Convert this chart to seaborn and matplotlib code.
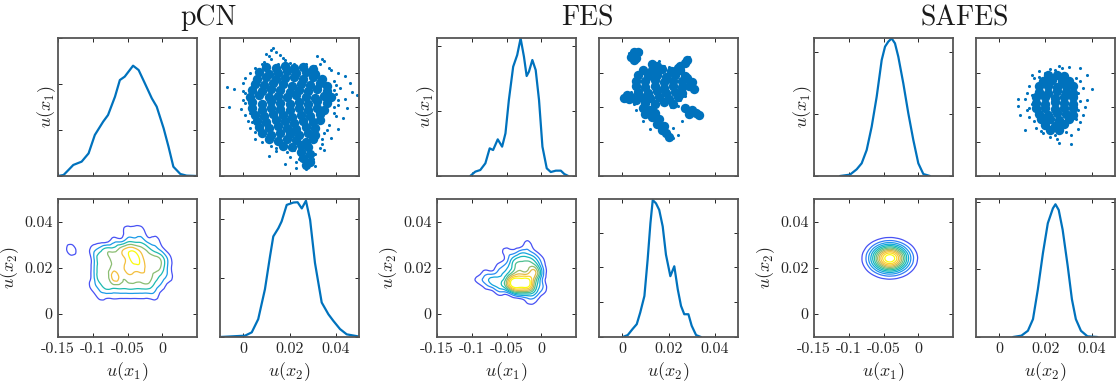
import numpy as np
import matplotlib
matplotlib.use('Agg')
import matplotlib.pyplot as plt
from matplotlib.colors import LinearSegmentedColormap
from matplotlib.tri import Triangulation, UniformTriRefiner
import seaborn as sns

methods = ['pCN', 'FES', 'SAFES']

# marginal densities
pcn_u1 = [-0.150, -0.142, -0.135, -0.128, -0.116, -0.106, -0.097, -0.085, -0.078, -0.068, -0.061, -0.054,
          -0.042, -0.034, -0.025, -0.015, -0.008, 0.002, 0.009, 0.016, 0.026, 0.035, 0.050]
pcn_f1 = [0.0, 0.11, 0.65, 1.20, 1.56, 2.46, 4.46, 5.91, 6.63, 8.62, 10.43, 10.80,
          11.99, 11.52, 10.07, 8.44, 7.54, 5.18, 3.19, 1.01, 0.22, 0.04, 0.0]
pcn_u2 = [-0.0100, 0.0008, 0.0037, 0.0065, 0.0094, 0.0116, 0.0130, 0.0152, 0.0166, 0.0188, 0.0217,
          0.0235, 0.0253, 0.0271, 0.0289, 0.0310, 0.0339, 0.0368, 0.0389, 0.0418, 0.0447, 0.0497]
pcn_f2 = [0.0, 0.45, 1.57, 6.06, 16.2, 27.4, 34.1, 36.9, 39.2, 44.8, 45.6,
          45.7, 43.6, 46.2, 39.7, 25.1, 11.7, 7.7, 5.5, 2.7, 0.9, 0.2]

fes_u1 = [-0.1022, -0.0949, -0.0877, -0.0804, -0.0742, -0.0693, -0.0626, -0.0563, -0.0515, -0.0466, -0.0404,
          -0.0346, -0.0297, -0.0249, -0.0210, -0.0177, -0.0128, -0.0080, -0.0032, 0.0017, 0.0079, 0.0137,
          0.0210, 0.0282, 0.0331, 0.0389]
fes_f1 = [0.0, 0.67, 0.92, 1.95, 4.25, 3.99, 5.63, 4.51, 6.55, 11.67, 16.79,
          18.59, 21.15, 18.33, 15.36, 16.03, 17.82, 16.28, 11.67, 4.51, 1.18, 0.61,
          0.82, 0.82, 0.31, 0.0]
fes_u2 = [0.0002, 0.0024, 0.0045, 0.0063, 0.0078, 0.0096, 0.0110, 0.0122, 0.0132, 0.0146, 0.0160,
          0.0175, 0.0189, 0.0208, 0.0225, 0.0240, 0.0254, 0.0268, 0.0286, 0.0300, 0.0319, 0.0340]
fes_f2 = [0.0, 1.1, 4.6, 7.4, 14.1, 23.6, 44.6, 65.5, 78.8, 76.9, 73.1,
          63.6, 47.4, 35.0, 40.7, 27.4, 17.9, 13.1, 13.1, 6.5, 1.1, 0.0]

safes_u1 = [-0.1126, -0.0982, -0.0886, -0.0814, -0.0742, -0.0670, -0.0598, -0.0526, -0.0478, -0.0431,
            -0.0383, -0.0335, -0.0287, -0.0215, -0.0143, -0.0071, 0.0001, 0.0073, 0.0169]
safes_f1 = [0.0, 0.22, 1.08, 2.05, 4.20, 7.97, 12.82, 18.74, 20.90, 21.71,
            22.24, 21.44, 19.28, 14.97, 10.13, 5.82, 2.05, 0.32, 0.0]
safes_u2 = [0.0060, 0.0096, 0.0124, 0.0146, 0.0167, 0.0189, 0.0210, 0.0232, 0.0243, 0.0257, 0.0274,
            0.0296, 0.0314, 0.0331, 0.0353, 0.0381, 0.0424]
safes_f2 = [0.0, 1.0, 4.6, 13.2, 35.2, 62.1, 84.1, 95.1, 98.1, 93.9, 79.3,
            52.3, 27.9, 13.2, 4.6, 0.5, 0.0]

# samples (u(x2), u(x1)) in units of 1e-3, dense core and scattered outliers
pcn_core = [(10, 8), (14, 6), (18, 9), (22, 7), (26, 8), (30, 5),
            (7, 1), (11, -2), (15, 0), (19, 2), (23, -1), (27, 1), (31, -2),
            (6, -9), (10, -7), (14, -10), (18, -8), (22, -6), (26, -9), (30, -7), (34, -10),
            (5, -16), (9, -18), (13, -15), (17, -17), (21, -19), (25, -16), (29, -18), (33, -15), (36, -19),
            (4, -25), (8, -27), (12, -24), (16, -26), (20, -28), (24, -25), (28, -27), (32, -24), (36, -27),
            (3, -35), (7, -33), (11, -36), (15, -34), (19, -36), (23, -33), (27, -35), (31, -37), (35, -34), (38, -36),
            (4, -43), (8, -45), (12, -42), (16, -44), (20, -46), (24, -43), (28, -45), (32, -42), (36, -44),
            (4, -52), (8, -54), (12, -51), (16, -53), (20, -55), (24, -52), (28, -54), (32, -51), (35, -54),
            (5, -61), (9, -63), (13, -60), (17, -62), (21, -64), (25, -61), (29, -63), (33, -60),
            (6, -70), (10, -72), (14, -69), (18, -71), (22, -73), (26, -70), (30, -72), (33, -69),
            (7, -79), (11, -81), (15, -78), (19, -80), (23, -82), (27, -79), (31, -81),
            (8, -88), (12, -90), (16, -87), (20, -89), (24, -91), (28, -88), (31, -90),
            (11, -97), (15, -99), (19, -96), (23, -98), (27, -100), (30, -97),
            (17, -106), (21, -108), (25, -105), (28, -108),
            (25, -115), (29, -118), (26, -124), (29, -129), (27, -134)]
pcn_sparse = [(12, 32), (14, 30), (10, 27), (16, 25), (12, 20), (18, 18), (9, 15), (20, 14), (15, 13), (13, 35),
              (11, 24), (17, 21), (8, 12), (22, 12), (5, 6), (3, 0), (1, -8), (0, -15),
              (32, 24), (34, 20), (35, 16), (33, 12), (37, 7), (31, 10), (27, 12),
              (38, 4), (41, 0), (44, -5), (39, -12), (46, -15), (42, -22), (47, -28), (40, -31), (44, -38), (49, -33),
              (41, -47), (45, -52), (39, -58), (43, -66), (37, -76), (41, -82), (35, -88), (38, -95), (34, -104),
              (40, -18), (39, -25), (41, -40), (39, -50), (40, -63), (36, -84), (34, -97),
              (-7, -21), (-4, -24), (0, -27), (-6, -50), (-1, -53), (3, -58), (1, -44), (2, -35), (2, -70), (3, -80), (5, -96),
              (1, -30), (0, -40), (1, -62), (4, -72), (5, -86), (8, -100), (12, -106), (14, -110),
              (14, -114), (11, -121), (18, -133), (19, -115), (22, -112), (24, -126), (23, -130),
              (30, -125), (31, -118), (20, -122), (27, -140), (33, -110), (35, -113), (31, -136), (23, -138)]

fes_core = [(9, 4), (13, 3), (17, 5), (21, 2), (25, 4),
            (7, -4), (11, -5), (15, -3), (19, -6), (23, -4), (27, -5),
            (6, -12), (10, -13), (14, -11), (18, -14), (22, -12), (26, -13),
            (6, -20), (10, -21), (14, -19), (18, -22), (22, -20), (26, -21),
            (7, -28), (11, -29), (15, -27), (19, -30), (23, -28), (26, -29),
            (8, -36), (12, -37), (16, -35), (20, -38), (24, -36),
            (10, -44), (14, -45), (18, -43), (22, -46),
            (9, -52), (12, -55), (10, -60), (14, -58), (13, -65), (16, -68), (15, -74), (18, -78),
            (17, -84), (19, -88), (20, -93),
            (5, 30), (7, 30), (5, 27), (4, 23), (6, 21), (5, 18),
            (13, 13), (15, 10), (14, 7), (23, 2), (24, 6), (25, 10), (27, 14), (28, 18),
            (2, -33), (4, -36), (1, -37), (6, -40), (3, -39),
            (28, -8), (30, -14), (29, -20), (31, -24),
            (27, -52), (30, -55), (32, -58), (33, -62), (29, -60)]
fes_sparse = [(3, 28), (8, 31), (16, 16), (12, 11), (28, 20), (29, 22), (32, -22), (34, -62), (22, -95),
              (21, -50), (24, -48), (1, -34), (9, -70), (6, -55), (26, -70), (24, -90),
              (20, 8), (18, 10), (4, -28), (5, -45), (25, -40), (27, -34), (22, -80), (12, -82)]

safes_core = [(21, -4), (25, -3), (28, -5),
              (19, -12), (23, -11), (27, -13), (30, -12),
              (17, -20), (21, -19), (25, -21), (29, -20), (32, -19),
              (17, -28), (21, -29), (25, -27), (29, -28), (32, -29),
              (16, -36), (20, -35), (24, -37), (28, -36), (32, -35),
              (16, -44), (20, -45), (24, -43), (28, -44), (32, -45),
              (16, -52), (20, -51), (24, -53), (28, -52), (32, -51),
              (17, -60), (21, -61), (25, -59), (29, -60), (32, -61),
              (18, -68), (22, -67), (26, -69), (30, -68),
              (20, -76), (24, -77), (28, -75),
              (22, -84), (26, -83)]
safes_sparse = [(13, -20), (12, -30), (11, -38), (8, -39), (8, -48), (12, -55), (13, -64), (11, -83), (16, -80),
                (19, -88), (22, -93), (25, -96), (31, -103), (26, -102), (31, -90), (34, -82), (35, -72),
                (36, -62), (37, -50), (38, -40), (40, -24), (36, -22), (35, -12), (38, -3), (35, 6), (27, 7),
                (22, 5), (17, 2), (15, -8), (14, -3), (30, 8), (26, 9), (9, -62),
                (14, -45), (13, -52), (14, -33), (34, -30), (35, -42), (34, -55), (33, -68), (15, -70), (18, -85),
                (29, -86), (24, -90), (17, -6), (33, -8), (24, 3), (20, -1)]

# joint density (rows: u(x2) from top to bottom)
pcn_grid_x1 = [-0.14, -0.13, -0.12, -0.11, -0.10, -0.09, -0.08, -0.07, -0.06, -0.05, -0.04, -0.03,
               -0.02, -0.01, 0.00, 0.01, 0.02, 0.03]
pcn_grid_x2 = [0.044, 0.040, 0.036, 0.032, 0.028, 0.024, 0.020, 0.016, 0.012, 0.008, 0.004, 0.000]
pcn_dens = [[0, 0, 0, 0, 0, 0, 0, 0, 0, 0, 0, 0, 0, 0, 0, 0, 0, 0],
            [0, 0, 0, 0, 0, 0, 0, 0, 0, 0, 0, 0, 0, 0, 0, 0, 0, 0],
            [0, 0, 0, 0, 0, 0, 0, 0, 0, 1, 1, 1, 0, 0, 0, 0, 0, 0],
            [0, 0, 0, 0, 0, 0, 0, 1, 1, 2, 2, 2, 1, 1, 0, 0, 0, 0],
            [0, 1, 0, 0, 1, 2, 3, 3, 4, 5, 5, 4, 3, 2, 1, 0, 0, 0],
            [0, 0, 0, 0, 1, 3, 3, 4, 4, 5, 6, 5, 4, 4, 3, 1, 0, 0],
            [0, 0, 0, 0, 1, 3, 3, 4, 4, 5, 5, 5, 4, 4, 3, 1, 0, 0],
            [0, 0, 0, 0, 1, 3, 3, 5, 4, 4, 4, 4, 4, 3, 2, 1, 0, 0],
            [0, 0, 0, 0, 1, 2, 3, 3, 3, 3, 3, 3, 3, 2, 1, 0, 0, 0],
            [0, 0, 0, 0, 0, 1, 1, 1, 1, 1, 1, 1, 1, 1, 0, 0, 0, 0],
            [0, 0, 0, 0, 0, 0, 0, 0, 0, 0, 0, 0, 0, 0, 0, 0, 0, 0],
            [0, 0, 0, 0, 0, 0, 0, 0, 0, 0, 0, 0, 0, 0, 0, 0, 0, 0]]

fes_grid_x1 = [-0.10, -0.09, -0.08, -0.07, -0.06, -0.05, -0.04, -0.03, -0.02, -0.01, 0.00, 0.01]
fes_grid_x2 = [0.033, 0.030, 0.027, 0.024, 0.021, 0.018, 0.015, 0.012, 0.009, 0.006, 0.003]
fes_dens = [[0, 0, 0, 0, 0, 0, 0, 0, 0, 0, 0, 0],
            [0, 0, 0, 0, 0, 0, 0, 0, 1, 0, 0, 0],
            [0, 0, 0, 0, 0, 1, 1, 2, 2, 1, 0, 0],
            [0, 0, 0, 0, 0, 1, 3, 4, 4, 3, 1, 0],
            [0, 0, 0, 0, 1, 2, 4, 5, 5, 5, 2, 0],
            [0, 0, 1, 1, 2, 3, 5, 6, 6, 7, 3, 0],
            [0, 1, 2, 3, 3, 5, 9, 9, 9, 6, 2, 0],
            [0, 0, 1, 2, 3, 5, 9, 9, 9, 5, 2, 0],
            [0, 0, 0, 0, 1, 1, 3, 4, 4, 3, 1, 0],
            [0, 0, 0, 0, 0, 0, 0, 0, 1, 1, 0, 0],
            [0, 0, 0, 0, 0, 0, 0, 0, 0, 0, 0, 0]]

safes_grid_x1 = [-0.10, -0.09, -0.08, -0.07, -0.06, -0.05, -0.04, -0.03, -0.02, -0.01, 0.00, 0.01, 0.02]
safes_grid_x2 = [0.039, 0.036, 0.033, 0.030, 0.027, 0.024, 0.021, 0.018, 0.015, 0.012, 0.009]
safes_dens = [[0, 0, 0, 0, 0, 0, 0, 0, 0, 0, 0, 0, 0],
              [0, 0, 0.01, 0.04, 0.09, 0.15, 0.17, 0.14, 0.08, 0.04, 0.01, 0, 0],
              [0, 0.02, 0.10, 0.30, 0.65, 1.02, 1.15, 0.95, 0.57, 0.25, 0.08, 0.02, 0],
              [0.02, 0.10, 0.40, 1.19, 2.56, 3.99, 4.54, 3.75, 2.25, 0.98, 0.31, 0.07, 0.01],
              [0.04, 0.22, 0.89, 2.67, 5.73, 8.93, 10.16, 8.38, 5.03, 2.19, 0.69, 0.16, 0.02],
              [0.05, 0.28, 1.14, 3.41, 7.31, 11.40, 12.96, 10.69, 6.41, 2.80, 0.88, 0.21, 0.03],
              [0.04, 0.20, 0.83, 2.48, 5.31, 8.28, 9.42, 7.77, 4.66, 2.03, 0.64, 0.15, 0.02],
              [0.02, 0.08, 0.34, 1.03, 2.20, 3.43, 3.90, 3.22, 1.93, 0.84, 0.26, 0.06, 0.01],
              [0, 0.02, 0.08, 0.24, 0.52, 0.81, 0.92, 0.76, 0.46, 0.20, 0.06, 0.01, 0],
              [0, 0, 0.01, 0.03, 0.07, 0.11, 0.12, 0.10, 0.06, 0.03, 0.01, 0, 0],
              [0, 0, 0, 0, 0, 0, 0, 0, 0, 0, 0, 0, 0]]

# styling
sns.set_theme(style='white')
plt.rcParams['font.family'] = ['cmr10']
plt.rcParams['mathtext.fontset'] = 'cm'
plt.rcParams['axes.unicode_minus'] = False
plt.rcParams['axes.formatter.use_mathtext'] = True

blue = '#0072BD'
parula = LinearSegmentedColormap.from_list('parula_like', [
    '#4852f4', '#2d87f7', '#16a0e3', '#0ab3c7', '#2bbfa3', '#70bf80',
    '#b3b95e', '#f0ba42', '#fdd130', '#f9fb0e'])

data = {
    'pCN': dict(u1=pcn_u1, f1=pcn_f1, u2=pcn_u2, f2=pcn_f2, core=pcn_core, sparse=pcn_sparse,
                gx1=pcn_grid_x1, gx2=pcn_grid_x2, dens=pcn_dens),
    'FES': dict(u1=fes_u1, f1=fes_f1, u2=fes_u2, f2=fes_f2, core=fes_core, sparse=fes_sparse,
                gx1=fes_grid_x1, gx2=fes_grid_x2, dens=fes_dens),
    'SAFES': dict(u1=safes_u1, f1=safes_f1, u2=safes_u2, f2=safes_f2, core=safes_core, sparse=safes_sparse,
                  gx1=safes_grid_x1, gx2=safes_grid_x2, dens=safes_dens),
}
# axis ranges of the marginal density panels (no labels shown)
dens1_lim = {'pCN': (15, [0, 5, 10, 15]), 'FES': (21.2, [0, 10, 20]), 'SAFES': (22.3, [0, 10, 20])}
dens2_lim = {'pCN': (46.8, [0, 20, 40]), 'FES': (79.4, [0, 20, 40, 60]), 'SAFES': (102, [0, 50, 100])}
contour_levels = {'pCN': np.arange(0.5, 6, 1.0),
                  'FES': np.arange(0.5, 9, 1.0),
                  'SAFES': np.arange(1, 13, 1.0)}

x1_ticks = [-0.15, -0.1, -0.05, 0]
x1_labels = ['-0.15', '-0.1', '-0.05', '0']
x2_ticks = [0, 0.02, 0.04]
x2_labels = ['0', '0.02', '0.04']

W, H = 1118, 386
fig = plt.figure(figsize=(W / 100, H / 100), dpi=100)


def add_ax(left, top):
    return fig.add_axes([left / W, 1 - (top + 138) / H, 139 / W, 138 / H])


def style(ax):
    ax.tick_params(direction='in', bottom=True, left=True, top=True, right=True,
                   length=3, width=0.7, color='#262626', labelsize=11.5, labelcolor='#262626', pad=4)
    for sp in ax.spines.values():
        sp.set_visible(True)
        sp.set_color('#555555')
        sp.set_linewidth(1.3)


def draw_contour(ax, gx1, gx2, dens, levels):
    X, Y = np.meshgrid(gx1, gx2)
    Z = np.array(dens, dtype=float)
    ny, nx = Z.shape
    idx = np.arange(nx * ny).reshape(ny, nx)
    a, b = idx[:-1, :-1].ravel(), idx[:-1, 1:].ravel()
    c, e = idx[1:, :-1].ravel(), idx[1:, 1:].ravel()
    tris = np.vstack([np.column_stack([a, b, e]), np.column_stack([a, e, c])])
    tri = Triangulation(X.ravel(), Y.ravel(), tris)
    tri_f, z_f = UniformTriRefiner(tri).refine_field(Z.ravel(), subdiv=3)
    ax.tricontour(tri_f, z_f, levels=levels, cmap=parula, linewidths=0.9)


lefts = [58, 437, 814]
for name, left in zip(methods, lefts):
    d = data[name]
    core = np.array(d['core']) / 1000
    sparse = np.array(d['sparse']) / 1000

    # top-left: density of u(x1)
    ax = add_ax(left, 38)
    sns.lineplot(x=d['u1'], y=d['f1'], ax=ax, color=blue, linewidth=1.6, sort=False)
    ax.set_xlim(-0.15, 0.05)
    ax.set_ylim(0, dens1_lim[name][0])
    ax.set_xticks(x1_ticks)
    ax.set_yticks(dens1_lim[name][1])
    ax.set_xticklabels([])
    ax.set_yticklabels([])
    ax.set_ylabel('$u(x_1)$', fontsize=13, color='#262626', labelpad=-4)
    style(ax)

    # top-right: samples
    ax = add_ax(left + 162, 38)
    sns.scatterplot(x=core[:, 0], y=core[:, 1], ax=ax, color=blue, s=46, linewidth=0)
    sns.scatterplot(x=sparse[:, 0], y=sparse[:, 1], ax=ax, color=blue, s=5, linewidth=0)
    ax.set_xlim(-0.01, 0.05)
    ax.set_ylim(-0.15, 0.05)
    ax.set_xticks(x2_ticks)
    ax.set_yticks(x1_ticks)
    ax.set_xticklabels([])
    ax.set_yticklabels([])
    style(ax)

    # bottom-left: contour of joint density
    ax = add_ax(left, 199)
    draw_contour(ax, d['gx1'], d['gx2'], d['dens'], contour_levels[name])
    ax.set_xlim(-0.15, 0.05)
    ax.set_ylim(-0.01, 0.05)
    ax.set_xticks(x1_ticks)
    ax.set_xticklabels(x1_labels)
    ax.set_yticks(x2_ticks)
    ax.set_yticklabels(x2_labels)
    ax.set_xlabel('$u(x_1)$', fontsize=13, color='#262626', labelpad=3)
    ax.set_ylabel('$u(x_2)$', fontsize=13, color='#262626', labelpad=2)
    style(ax)

    # bottom-right: density of u(x2)
    ax = add_ax(left + 162, 199)
    sns.lineplot(x=d['u2'], y=d['f2'], ax=ax, color=blue, linewidth=1.6, sort=False)
    ax.set_xlim(-0.01, 0.05)
    ax.set_ylim(0, dens2_lim[name][0])
    ax.set_xticks(x2_ticks)
    ax.set_xticklabels(x2_labels)
    ax.set_yticks(dens2_lim[name][1])
    ax.set_yticklabels([])
    ax.set_xlabel('$u(x_2)$', fontsize=13, color='#262626', labelpad=3)
    ax.set_ylabel('')
    style(ax)

    fig.text((left + 150.5) / W, 1 - 18 / H, name, ha='center', va='center',
             fontsize=20, color='#1a1a1a')

fig.savefig('out.png', dpi=100)
